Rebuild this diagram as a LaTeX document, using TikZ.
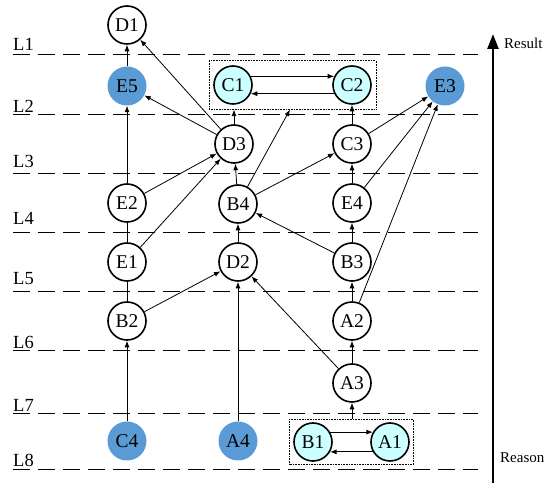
\documentclass[tikz,border=0pt]{standalone}
\usepackage{fontspec}
\setmainfont{Liberation Serif}
\usetikzlibrary{arrows.meta,fit}
\definecolor{bluenode}{HTML}{5B9BD5}
\definecolor{cyannode}{HTML}{CCFFFF}
\begin{document}
\begin{tikzpicture}[x=1pt,y=-1pt,
  nd/.style={circle,draw,line width=1.6pt,minimum size=38pt,inner sep=0pt,font=\fontsize{19.5}{19.5}\selectfont},
  bl/.style={circle,fill=bluenode,minimum size=39pt,inner sep=0pt,font=\fontsize{19.5}{19.5}\selectfont},
  cy/.style={nd,fill=cyannode},
  ar/.style={-{Latex[length=6.5pt,width=5pt]},line width=0.8pt},
  ln/.style={line width=0.8pt},
  lev/.style={dash pattern=on 17pt off 8pt,line width=1pt},
  lab/.style={anchor=base west,inner sep=0pt,font=\fontsize{18.5}{18.5}\selectfont},
  dbox/.style={draw,line width=0.6pt,dash pattern=on 0.8pt off 0.8pt,rectangle}
]
\useasboundingbox (0,0) rectangle (550,494);
% level lines
\foreach \n/\y/\b in {1/55/51,2/115/113,3/174/168,4/233/225,5/292/285,6/351/349,7/414/412,8/470/467}{
  \coordinate (ls\n) at (13,\y);
  \coordinate (le\n) at (478,\y);
  \draw[lev] (ls\n) -- (le\n);
  \node[lab] (L\n) at (13,\b) {L\n};
}
% nodes
\node[nd] (D1) at (127,25) {D1};
\node[bl] (E5) at (127,86) {E5};
\node[cy] (C1) at (233,85) {C1};
\node[cy] (C2) at (352,85) {C2};
\node[bl] (E3) at (445,86) {E3};
\node[nd] (D3) at (234,144) {D3};
\node[nd] (C3) at (352,144) {C3};
\node[nd] (E2) at (127,203) {E2};
\node[nd] (B4) at (238,204) {B4};
\node[nd] (E4) at (352,203) {E4};
\node[nd] (E1) at (127,262) {E1};
\node[nd] (D2) at (238,262) {D2};
\node[nd] (B3) at (352,262) {B3};
\node[nd] (B2) at (127,321) {B2};
\node[nd] (A2) at (352,321) {A2};
\node[nd] (A3) at (352,383) {A3};
\node[bl] (C4) at (127,441) {C4};
\node[bl] (A4) at (238,441) {A4};
\node[cy] (B1) at (313,442) {B1};
\node[cy] (A1) at (390,442) {A1};
% boxes
\node[dbox,fit=(C1)(C2),inner xsep=4pt,inner ysep=4.5pt] (tbox) {};
\node[dbox,fit=(B1)(A1),inner xsep=3.5pt,inner ysep=3pt] (bbox) {};
\coordinate (bx) at (290,0);
% edges
\draw[ar] (E5) -- (D1);
\draw[ar] (D3) -- (D1);
\draw[ar] (D3) -- (E5);
\draw[ar] (D3) -- (D3 |- tbox.south);
\draw[ar] (B4) -- (bx |- tbox.south);
\draw[ar] (E2) -- (E5);
\draw[ar] (E2) -- (D3);
\draw[ar] (E1) -- (D3);
\draw[ln] (E1) -- (E2);
\draw[ln] (B2) -- (E1);
\draw[ar] (B2) -- (D2);
\draw[ar] (C4) -- (B2);
\draw[ar] (A4) -- (D2);
\draw[ar] (A3) -- (D2);
\draw[ar] (B4) -- (D3);
\draw[ar] (B4) -- (C3);
\draw[ar] (D2) -- (B4);
\draw[ar] (B3) -- (B4);
\draw[ar] (C3) -- (C2);
\draw[ar] (C3) -- (E3);
\draw[ar] (E4) -- (C3);
\draw[ar] (E4) -- (E3);
\draw[ar] (A2) -- (E3);
\draw[ar] (B3) -- (E4);
\draw[ar] (A2) -- (B3);
\draw[ar] (A3) -- (A2);
\draw[ar] (A3 |- bbox.north) -- (A3);
\draw[ar] (C1.26) -- (C2.154);
\draw[ar] (C2.206) -- (C1.334);
\draw[ar] (B1.30) -- (A1.150);
\draw[ar] (A1.210) -- (B1.330);
% axis
\coordinate (rb) at (493,483);
\coordinate (rt) at (493,34);
\draw[line width=2.5pt,-{Triangle[length=15pt,width=11pt]}] (rb) -- (rt);
\node[anchor=base west,inner sep=0pt,font=\fontsize{15}{15}\selectfont] (res) at (504,49) {Result};
\node[anchor=base west,inner sep=0pt,font=\fontsize{15}{15}\selectfont] (rea) at (500,463) {Reason};
\end{tikzpicture}
\end{document}
